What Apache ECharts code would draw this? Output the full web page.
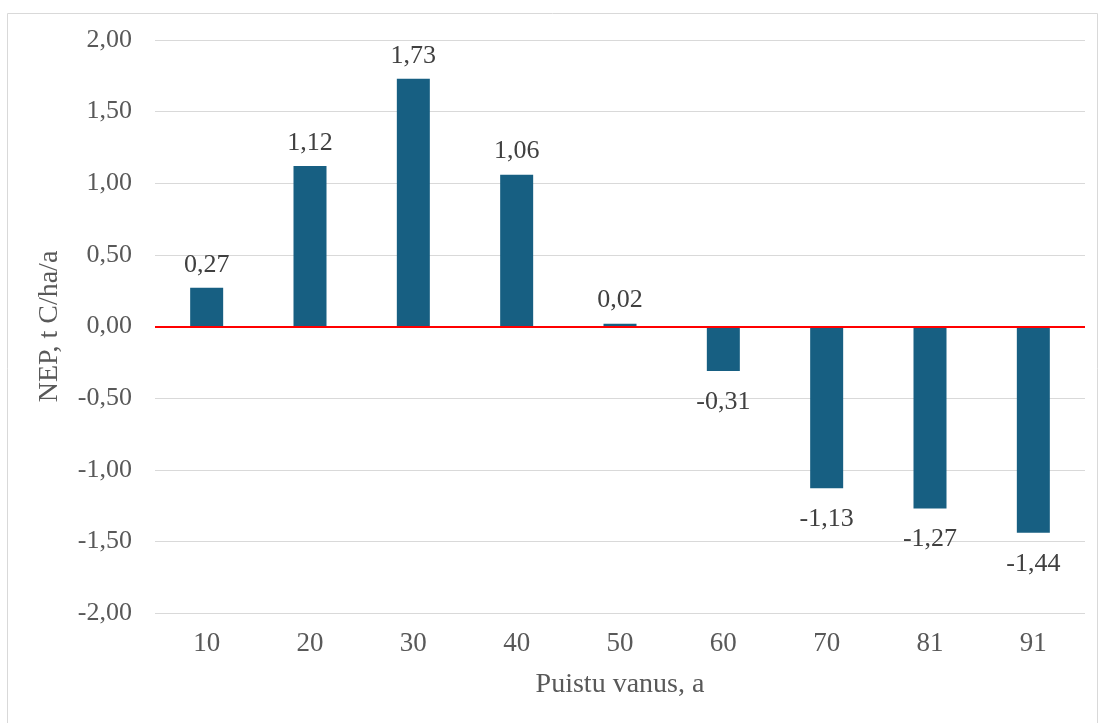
<!DOCTYPE html>
<html>
<head>
<meta charset="utf-8">
<script src="https://cdn.jsdelivr.net/npm/echarts@6/dist/echarts.min.js"></script>
<style>
  html, body { margin: 0; padding: 0; background: #fff; }
  #chart { width: 1099px; height: 723px; }
</style>
</head>
<body>
<div id="chart"></div>
<script>
// Stand age classes (years)
const ages = ['10', '20', '30', '40', '50', '60', '70', '81', '91'];
// Net ecosystem production, t C/ha/a
const nep = [0.27, 1.12, 1.73, 1.06, 0.02, -0.31, -1.13, -1.27, -1.44];
// Value axis ticks
const yTicks = [-2, -1.5, -1, -0.5, 0, 0.5, 1, 1.5, 2];

const fmt = v => v.toFixed(2).replace('.', ',');
const serif = '"Liberation Serif", "Times New Roman", serif';

const chart = echarts.init(document.getElementById('chart'));
chart.setOption({
  animation: false,
  textStyle: { fontFamily: serif },
  graphic: [{
    type: 'rect',
    shape: { x: 7.5, y: 13.5, width: 1090, height: 730 },
    style: { fill: 'none', stroke: '#d9d9d9', lineWidth: 1 },
    silent: true
  }],
  grid: { left: 155, right: 14, top: 40, bottom: 110 },
  xAxis: {
    type: 'category',
    data: ages,
    axisLine: { show: false },
    axisTick: { show: false },
    axisLabel: { color: '#595959', fontSize: 27, fontFamily: serif, margin: 17 },
    name: 'Puistu vanus, a',
    nameLocation: 'middle',
    nameGap: 58,
    nameTextStyle: { color: '#595959', fontSize: 28, fontFamily: serif }
  },
  yAxis: {
    type: 'value',
    min: yTicks[0],
    max: yTicks[yTicks.length - 1],
    interval: 0.5,
    axisLine: { show: false },
    axisTick: { show: false },
    splitLine: { lineStyle: { color: '#d9d9d9', width: 1 } },
    axisLabel: { color: '#595959', fontSize: 26, fontFamily: serif, margin: 23, formatter: fmt },
    name: 'NEP, t C/ha/a',
    nameLocation: 'middle',
    nameGap: 91,
    nameTextStyle: { color: '#595959', fontSize: 28, fontFamily: serif }
  },
  series: [{
    type: 'bar',
    data: nep.map(v => ({
      value: v,
      label: v >= 0
        ? { position: 'top', distance: 10 }
        : { position: 'bottom', distance: 18 }
    })),
    barWidth: 33,
    itemStyle: { color: '#175f82' },
    label: {
      show: true,
      color: '#404040',
      fontSize: 26,
      fontFamily: serif,
      formatter: p => fmt(p.value)
    },
    markLine: {
      silent: true,
      symbol: 'none',
      label: { show: false },
      lineStyle: { color: '#ff0000', width: 2, type: 'solid' },
      data: [{ yAxis: 0 }]
    }
  }]
});
</script>
</body>
</html>
